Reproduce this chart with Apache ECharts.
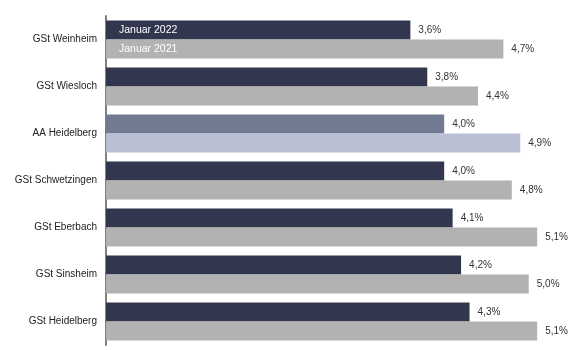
<!DOCTYPE html>
<html><head><meta charset="utf-8">
<script src="https://cdn.jsdelivr.net/npm/echarts@6/dist/echarts.min.js"></script>
<style>html,body{margin:0;padding:0;background:#fff}#c{width:587px;height:350px}</style>
</head><body><div id="c"></div>
<script>
const categories = ['GSt Weinheim','GSt Wiesloch','AA Heidelberg','GSt Schwetzingen','GSt Eberbach','GSt Sinsheim','GSt Heidelberg'];
const seriesNames = ['Januar 2022','Januar 2021'];
const values2022 = [3.6,3.8,4.0,4.0,4.1,4.2,4.3];
const values2021 = [4.7,4.4,4.9,4.8,5.1,5.0,5.1];
const highlightIndex = 2;

const col2022 = '#32374f', col2021 = '#b2b2b2';
const hi2022 = '#717a90', hi2021 = '#b9c0d3';

function mk(vals, base, hi){
  return vals.map((v,i)=> i===highlightIndex ? {value:v, itemStyle:{color:hi}} : v);
}
const fmt = p => p.value.toFixed(1).replace('.',',') + '%';
const chart = echarts.init(document.getElementById('c'));
chart.setOption({
  animation:false,
  textStyle:{fontFamily:'Liberation Sans, Arial, sans-serif'},
  grid:{left:106, top:16, width:465, height:329},
  legend:{
    orient:'vertical', left:109, top:16, itemWidth:0, itemHeight:0, itemGap:0,
    selectedMode:false,
    data:seriesNames,
    textStyle:{color:'#fff', fontSize:10.5, lineHeight:19, padding:[0,0,0,0]},
  },
  xAxis:{type:'value', min:0, max:5.5, show:false},
  yAxis:{type:'category', data:categories, inverse:true,
    axisLine:{lineStyle:{color:'#7f7f7f', width:2}},
    axisTick:{show:false},
    axisLabel:{color:'#222', fontSize:10, margin:9}},
  series:[
    {name:seriesNames[0], type:'bar', data:mk(values2022,col2022,hi2022), itemStyle:{color:col2022},
     barGap:0, barCategoryGap:'19%',
     label:{show:true, position:'right', distance:8, color:'#333', fontSize:10, formatter:fmt}},
    {name:seriesNames[1], type:'bar', data:mk(values2021,col2021,hi2021), itemStyle:{color:col2021},
     barGap:0, barCategoryGap:'19%',
     label:{show:true, position:'right', distance:8, color:'#333', fontSize:10, formatter:fmt}}
  ]
});
</script></body></html>
